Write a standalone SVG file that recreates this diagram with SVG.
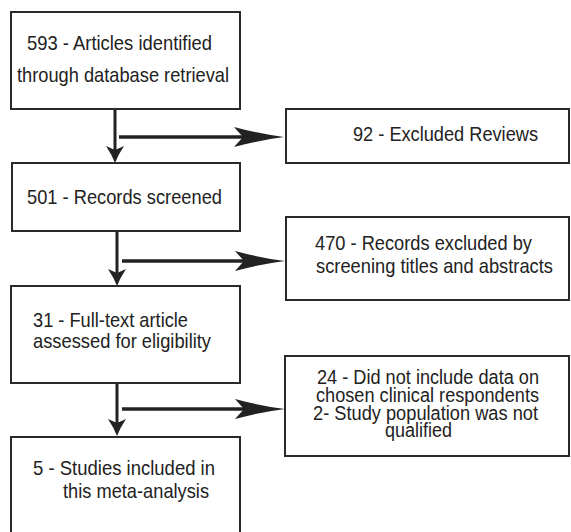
<svg xmlns="http://www.w3.org/2000/svg" width="571" height="532" viewBox="0 0 571 532">
<style>
.box{fill:#fff;stroke:#2a2a2a;stroke-width:2}
.t{font-family:"Liberation Sans",Arial,sans-serif;font-size:21px;fill:#222}
.s{font-size:20px}
.h{stroke:#222;stroke-width:3.5;fill:none}
.v{stroke:#222;stroke-width:3;fill:none}
</style>
<defs>
<marker id="ah" viewBox="-50 -11 50 22" markerWidth="50" markerHeight="22" refX="-33" refY="0" orient="auto" markerUnits="userSpaceOnUse">
<path d="M0,0 Q-24,-3 -50,-10 L-41,0 L-50,10 Q-24,3 0,0 Z" fill="#222"/>
</marker>
<marker id="av" viewBox="-18 -10 18 20" markerWidth="18" markerHeight="20" refX="-8" refY="0" orient="auto" markerUnits="userSpaceOnUse">
<path d="M0,0 Q-8,-3 -17,-9 L-13,0 L-17,9 Q-8,3 0,0 Z" fill="#222"/>
</marker>
</defs>
<rect width="571" height="532" fill="#fff"/>
<g id="connectors">
<line class="v" x1="115" y1="109" x2="115" y2="155" marker-end="url(#av)"/>
<line class="h" x1="119" y1="137" x2="251" y2="137" marker-end="url(#ah)"/>
<line class="v" x1="117" y1="231" x2="117" y2="278" marker-end="url(#av)"/>
<line class="h" x1="122" y1="261" x2="252" y2="261" marker-end="url(#ah)"/>
<line class="v" x1="117" y1="383" x2="117" y2="428" marker-end="url(#av)"/>
<line class="h" x1="122" y1="409" x2="252" y2="409" marker-end="url(#ah)"/>
</g>
<g id="n1">
<rect class="box" x="11" y="12" width="229" height="97"/>
<text class="t" x="27" y="50" textLength="185" lengthAdjust="spacingAndGlyphs">593 - Articles identified</text>
<text class="t" x="17" y="82" textLength="212" lengthAdjust="spacingAndGlyphs">through database retrieval</text>
</g>
<g id="n2">
<rect class="box" x="286" y="109" width="283" height="54"/>
<text class="t" x="353" y="141" textLength="185" lengthAdjust="spacingAndGlyphs">92 - Excluded Reviews</text>
</g>
<g id="n3">
<rect class="box" x="12" y="163" width="228" height="68"/>
<text class="t" x="27" y="204" textLength="195" lengthAdjust="spacingAndGlyphs">501 - Records screened</text>
</g>
<g id="n4">
<rect class="box" x="286" y="217" width="283" height="83"/>
<text class="t" x="315" y="250" textLength="217" lengthAdjust="spacingAndGlyphs">470 - Records excluded by</text>
<text class="t" x="316" y="273" textLength="237" lengthAdjust="spacingAndGlyphs">screening titles and abstracts</text>
</g>
<g id="n5">
<rect class="box" x="11" y="286" width="229" height="97"/>
<text class="t" x="33" y="327" textLength="155" lengthAdjust="spacingAndGlyphs">31 - Full-text article</text>
<text class="t" x="33" y="348" textLength="178" lengthAdjust="spacingAndGlyphs">assessed for eligibility</text>
</g>
<g id="n6">
<rect class="box" x="285" y="356" width="284" height="100"/>
<text class="t s" x="317" y="384" textLength="222" lengthAdjust="spacingAndGlyphs">24 - Did not include data on</text>
<text class="t s" x="316" y="402" textLength="223" lengthAdjust="spacingAndGlyphs">chosen clinical respondents</text>
<text class="t s" x="313" y="420" textLength="225" lengthAdjust="spacingAndGlyphs">2- Study population was not</text>
<text class="t s" x="385" y="437" textLength="67" lengthAdjust="spacingAndGlyphs">qualified</text>
</g>
<g id="n7">
<rect class="box" x="11" y="437" width="229" height="110"/>
<text class="t" x="33" y="475" textLength="182" lengthAdjust="spacingAndGlyphs">5 -  Studies included in</text>
<text class="t" x="63" y="498" textLength="146" lengthAdjust="spacingAndGlyphs">this meta-analysis</text>
</g>
</svg>
